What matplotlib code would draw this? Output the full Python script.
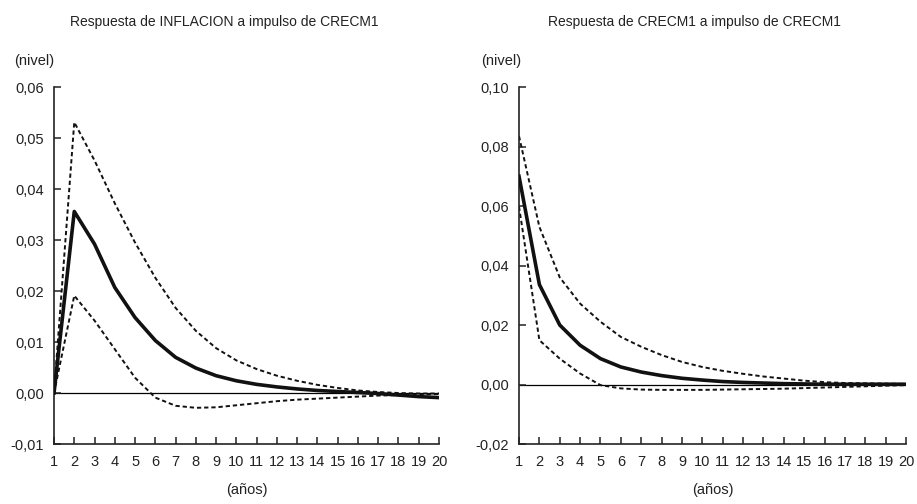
import matplotlib
matplotlib.use("Agg")
import matplotlib.pyplot as plt
import numpy as np

plt.rcParams['font.family'] = ['Liberation Sans Narrow', 'Liberation Sans', 'DejaVu Sans']

periods = list(range(1, 21))
period_labels = [str(p) for p in periods]

# Respuesta de INFLACION a impulso de CRECM1
infl_resp = [0.0, 0.0356, 0.0292, 0.0207, 0.0148, 0.0103, 0.0070, 0.0049, 0.0034, 0.0024,
             0.0017, 0.0012, 0.0008, 0.0005, 0.0003, 0.0001, -0.0001, -0.0004, -0.0007, -0.0009]
infl_upper = [0.0, 0.0531, 0.0456, 0.0372, 0.0295, 0.0226, 0.0167, 0.0122, 0.0088, 0.0064,
              0.0047, 0.0034, 0.0024, 0.0016, 0.0010, 0.0005, 0.0002, 0.0000, -0.0001, -0.0001]
infl_lower = [0.0, 0.0191, 0.0142, 0.0086, 0.0030, -0.0009, -0.0025, -0.0029, -0.0028, -0.0024,
              -0.0020, -0.0016, -0.0013, -0.0011, -0.0009, -0.0007, -0.0005, -0.0004, -0.0003, -0.0002]
infl_yticks = [-0.01, 0.0, 0.01, 0.02, 0.03, 0.04, 0.05, 0.06]
infl_ylabels = ['-0,01', '0,00', '0,01', '0,02', '0,03', '0,04', '0,05', '0,06']

# Respuesta de CRECM1 a impulso de CRECM1
m1_resp = [0.0700, 0.0336, 0.0200, 0.0132, 0.0087, 0.0059, 0.0042, 0.0030, 0.0021, 0.0015,
           0.0010, 0.0007, 0.0005, 0.0003, 0.0002, 0.0001, 0.0001, 0.0001, 0.0001, 0.0001]
m1_upper = [0.0835, 0.0530, 0.0360, 0.0272, 0.0211, 0.0160, 0.0127, 0.0099, 0.0076, 0.0059,
            0.0046, 0.0036, 0.0027, 0.0020, 0.0013, 0.0008, 0.0005, 0.0004, 0.0003, 0.0002]
m1_lower = [0.0598, 0.0149, 0.0087, 0.0037, -0.0002, -0.0013, -0.0017, -0.0018, -0.0018, -0.0018,
            -0.0017, -0.0016, -0.0015, -0.0014, -0.0012, -0.0010, -0.0008, -0.0006, -0.0004, -0.0002]
m1_yticks = [-0.02, 0.0, 0.02, 0.04, 0.06, 0.08, 0.10]
m1_ylabels = ['-0,02', '0,00', '0,02', '0,04', '0,06', '0,08', '0,10']

titles = ['Respuesta de INFLACION a impulso de CRECM1', 'Respuesta de CRECM1 a impulso de CRECM1']

txt = '#222222'
fig = plt.figure(figsize=(9.17, 5.04), dpi=100)
ax1 = fig.add_axes([0.0589, 0.119, 0.4198, 0.7083])
ax2 = fig.add_axes([0.566, 0.119, 0.422, 0.7083])


def draw_panel(ax, resp, upper, lower, yticks, ylabels):
    ax.axhline(0, color='black', lw=0.9, zorder=1)
    ax.plot(periods, upper, color='#111111', lw=1.4, dashes=(2.2, 1.5), zorder=2)
    ax.plot(periods, lower, color='#111111', lw=1.4, dashes=(2.2, 1.5), zorder=2)
    ax.plot(periods, resp, color='#111111', lw=2.6, zorder=3)
    ax.set_xlim(1, 20)
    ax.set_ylim(yticks[0], yticks[-1])
    ax.set_xticks(periods)
    ax.set_xticklabels(period_labels)
    ax.set_yticks(yticks)
    ax.set_yticklabels(ylabels)
    for s in ['top', 'right']:
        ax.spines[s].set_visible(False)
    for s in ['left', 'bottom']:
        ax.spines[s].set_linewidth(1.2)
        ax.spines[s].set_color('#222222')
    ax.tick_params(axis='both', direction='in', length=5, width=1.1, color='#222222',
                   labelcolor=txt)
    ax.tick_params(axis='y', pad=7, labelsize=10.5)
    ax.tick_params(axis='x', pad=8, labelsize=10.5)


draw_panel(ax1, infl_resp, infl_upper, infl_lower, infl_yticks, infl_ylabels)
draw_panel(ax2, m1_resp, m1_upper, m1_lower, m1_yticks, m1_ylabels)

fig.text(0.245, 0.956, titles[0], ha='center', va='center', fontsize=10, color=txt)
fig.text(0.757, 0.956, titles[1], ha='center', va='center', fontsize=10, color=txt)
fig.text(0.0153, 0.879, '(nivel)', ha='left', va='center', fontsize=10.5, color=txt)
fig.text(0.5245, 0.879, '(nivel)', ha='left', va='center', fontsize=10.5, color=txt)
fig.text(0.269, 0.028, '(años)', ha='center', va='center', fontsize=10.5, color=txt)
fig.text(0.777, 0.028, '(años)', ha='center', va='center', fontsize=10.5, color=txt)

fig.savefig('out.png', dpi=100)
